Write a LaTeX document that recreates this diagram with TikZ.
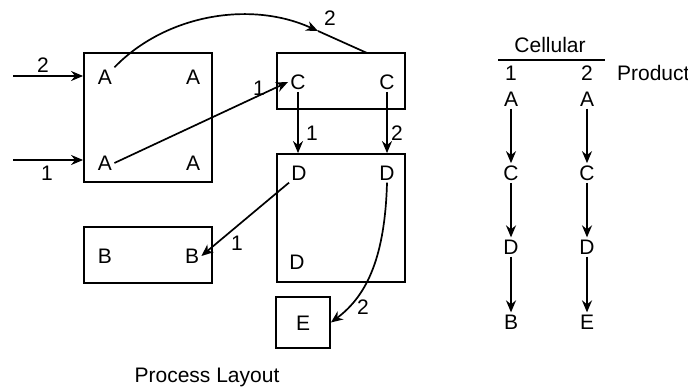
\documentclass[tikz,border=0pt]{standalone}
\usepackage{fontspec}
\setmainfont{Liberation Sans}
\usetikzlibrary{positioning, arrows.meta, calc}

\begin{document}
\begin{tikzpicture}[
        x=0.5pt, y=-0.5pt,
        every node/.style={font=\fontsize{10.5}{12}\selectfont},
        dept/.style={rectangle, draw=black, line width=0.9pt, inner sep=0pt},
        op/.style={inner sep=1pt},
        num/.style={inner sep=1pt},
        arr/.style={-{Stealth[length=6pt, width=5pt]}, line width=0.85pt},
        plain/.style={line width=0.85pt},
    ]
        \useasboundingbox (0,0) rectangle (688,389);

        % process layout: departments
        \node[dept, minimum width=64pt, minimum height=64.5pt] (boxA) at (148,117.5) {};
        \node[dept, minimum width=64pt, minimum height=28pt] (boxC) at (341,81) {};
        \node[dept, minimum width=64pt, minimum height=64pt] (boxD) at (341,218) {};
        \node[dept, minimum width=64pt, minimum height=28pt] (boxB) at (148,255) {};
        \node[dept, minimum width=27pt, minimum height=25.5pt] (boxE) at (303,322.5) {};

        \node[op] (a1) at (105,77) {A};
        \node[op] (a2) at (193,77) {A};
        \node[op] (a3) at (105,163) {A};
        \node[op] (a4) at (193,163) {A};
        \node[op] (c1) at (298,82) {C};
        \node[op] (c2) at (387,82) {C};
        \node[op] (d1) at (299,173) {D};
        \node[op] (d2) at (387,173) {D};
        \node[op] (d3) at (297,262) {D};
        \node[op] (b1) at (105,256) {B};
        \node[op] (b2) at (192,256) {B};
        \node[op] (e1) at (303,323) {E};

        \coordinate (in2) at (13,76);
        \coordinate (in1) at (13,160);
        \coordinate (tip2) at (318,31);
        \coordinate (ctop) at (367,53);

        \draw[arr] (in2) -- (in2 -| boxA.west);
        \draw[arr] (in1) -- (in1 -| boxA.west);
        \node[num] at (43,65) {2};
        \node[num] at (47,173) {1};

        \draw[arr] (a1.north east) .. controls (165,15) and (250,0) .. (tip2);
        \draw[plain] (tip2) -- (ctop);
        \node[num] at (330,18) {2};
        \draw[arr] (a3.east) -- (c1.west);
        \node[num] at (259,88) {1};

        \draw[arr] (c1.south) -- (c1.south |- boxD.north);
        \draw[arr] (c2.south) -- (c2.south |- boxD.north);
        \node[num] at (312,133) {1};
        \node[num] at (397,133) {2};

        \draw[arr] (d1.south west) -- (b2.east);
        \node[num] at (237,243) {1};
        \draw[arr] (d2.south) .. controls (385,255) and (368,295) .. (boxE.east);
        \node[num] at (363,307) {2};

        \node at (207,377) {Process Layout};

        % cellular layout
        \node (cell) at (550,45) {Cellular};
        \draw[plain] (498,60) -- (605,60);
        \node[num] (p1) at (511,73) {1};
        \node[num] (p2) at (587,73) {2};
        \node[anchor=west] (prod) at (610,73) {Product};

        \node[op] (ca1) at (511,99) {A};
        \node[op] (cc1) at (511,173) {C};
        \node[op] (cd1) at (511,247) {D};
        \node[op] (cb1) at (511,322) {B};
        \node[op] (ca2) at (587,99) {A};
        \node[op] (cc2) at (587,173) {C};
        \node[op] (cd2) at (587,247) {D};
        \node[op] (ce2) at (587,322) {E};

        \draw[arr] (ca1) -- (cc1);
        \draw[arr] (cc1) -- (cd1);
        \draw[arr] (cd1) -- (cb1);
        \draw[arr] (ca2) -- (cc2);
        \draw[arr] (cc2) -- (cd2);
        \draw[arr] (cd2) -- (ce2);
    \end{tikzpicture}
\end{document}
